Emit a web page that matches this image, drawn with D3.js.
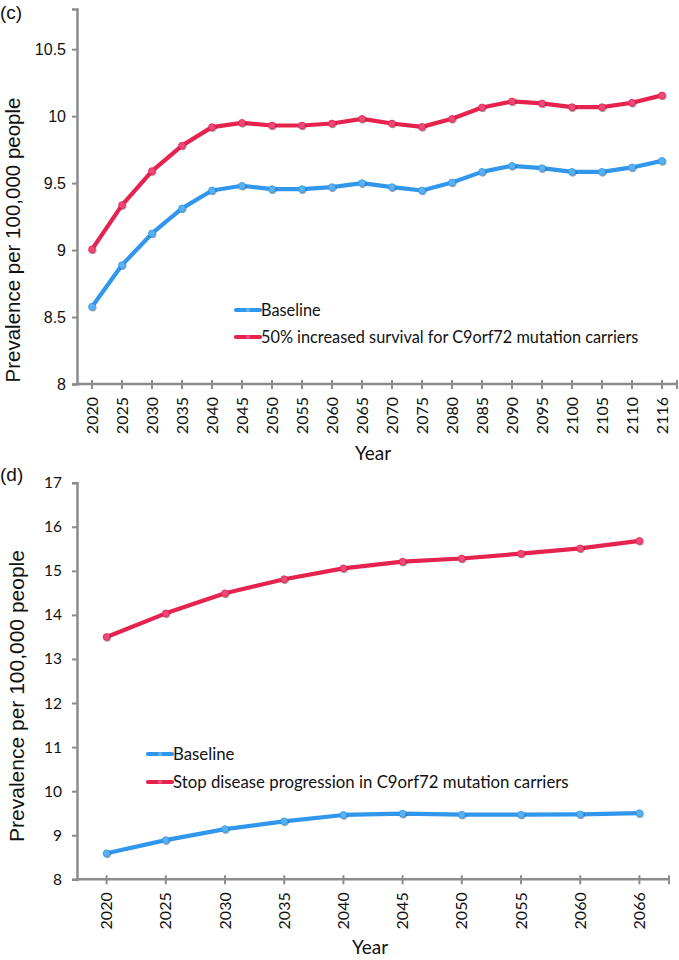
<!DOCTYPE html>
<html><head><meta charset="utf-8">
<script src="https://cdn.jsdelivr.net/npm/d3@7"></script>
<style>body{margin:0;background:#fff}svg{display:block}</style>
</head><body>
<svg id="c" width="679" height="960"></svg>
<script>
// Panel (c)
const yearsC = ["2020","2025","2030","2035","2040","2045","2050","2055","2060","2065","2070","2075","2080","2085","2090","2095","2100","2105","2110","2116"];
const baselineC = [8.577,8.888,9.124,9.311,9.445,9.480,9.455,9.455,9.470,9.500,9.470,9.445,9.505,9.584,9.629,9.612,9.584,9.584,9.617,9.666];
const survivalC = [9.005,9.336,9.590,9.780,9.918,9.950,9.930,9.930,9.945,9.980,9.945,9.920,9.980,10.065,10.110,10.095,10.067,10.067,10.100,10.155];
const yTicksC = [8, 8.5, 9, 9.5, 10, 10.5];
const yDomainC = [8, 10.8];
// Panel (d)
const yearsD = ["2020","2025","2030","2035","2040","2045","2050","2055","2060","2066"];
const baselineD = [8.59,8.89,9.14,9.315,9.46,9.49,9.466,9.466,9.475,9.50];
const stopD = [13.50,14.035,14.49,14.81,15.057,15.207,15.28,15.39,15.51,15.68];
const yTicksD = [8,9,10,11,12,13,14,15,16,17];
const yDomainD = [8, 17];

const seriesNamesC = ["Baseline","50% increased survival for C9orf72 mutation carriers"];
const seriesNamesD = ["Baseline","Stop disease progression in C9orf72 mutation carriers"];

const BLUE = "#3197ec", RED = "#e6224f";
const BLUE_M = "#5ab2f3", RED_M = "#ee4a7a";
const AXIS = "#8c8c8c";
const svg = d3.select("#c");

const defs = svg.append("defs");
const f = defs.append("filter").attr("id","sh").attr("x","-50%").attr("y","-50%").attr("width","200%").attr("height","200%");
f.append("feDropShadow").attr("dx",0.6).attr("dy",1).attr("stdDeviation",0.7).attr("flood-color","#000").attr("flood-opacity",0.45);

function panel(opt){
  const g = svg.append("g");
  const x = d3.scaleBand().domain(opt.years).range([opt.x0, opt.x1]);
  const y = d3.scaleLinear().domain(opt.yDomain).range([opt.yBottom, opt.yTop]);
  const cx = d => x(d) + x.bandwidth()/2;

  // y axis
  const ya = d3.axisLeft(y).tickValues(opt.yTicks).tickSize(5).tickPadding(opt.yPad).tickFormat(d3.format("~g"));
  const yg = g.append("g").attr("transform",`translate(${opt.x0},0)`).call(ya);
  yg.select(".domain").attr("stroke",AXIS).attr("stroke-width",2.5);
  yg.selectAll(".tick line").attr("stroke",AXIS).attr("stroke-width",2);
  yg.selectAll(".tick text").attr("fill","#111").style("font-family",opt.yFont).style("font-size",opt.yFontSize+"px");

  // x axis line & ticks
  g.append("line").attr("x1",opt.x0).attr("x2",opt.x1).attr("y1",opt.yBottom).attr("y2",opt.yBottom)
    .attr("stroke",AXIS).attr("stroke-width",2.5);
  const tickXs = opt.years.map(cx).concat([opt.x1]);
  g.selectAll(".xt").data(tickXs).join("line")
    .attr("x1",d=>d).attr("x2",d=>d).attr("y1",opt.yBottom-4).attr("y2",opt.yBottom+5)
    .attr("stroke",AXIS).attr("stroke-width",2);
  g.selectAll(".xl").data(opt.years).join("text")
    .attr("transform",d=>`translate(${cx(d)+5.5},${opt.yBottom+13}) rotate(-90)`)
    .attr("text-anchor","end")
    .style("font-family","Lato, 'Open Sans', sans-serif").style("font-size","16px").attr("fill","#111")
    .text(d=>d);

  // titles
  g.append("text").attr("x",opt.yearX).attr("y",opt.yearY)
    .style("font-family","Lato, sans-serif").style("font-size","19px").attr("fill","#111").text("Year");
  g.append("text").attr("transform",`translate(${opt.ytX},${opt.ytY}) rotate(-90)`)
    .attr("text-anchor","middle").style("font-family",opt.ytFont).style("font-size",opt.ytSize+"px").attr("fill","#111")
    .text("Prevalence per 100,000 people");
  g.append("text").attr("x",0).attr("y",opt.labelY)
    .style("font-family","'Liberation Sans', Arial, sans-serif").style("font-size","19px").attr("fill","#111").text(opt.label);

  // series
  const line = d3.line().x((d,i)=>cx(opt.years[i])).y(d=>y(d));
  const ser = [{v:opt.s1,c:BLUE,m:BLUE_M},{v:opt.s2,c:RED,m:RED_M}];
  ser.forEach(s=>{
    g.append("path").datum(s.v).attr("d",line).attr("fill","none").attr("stroke",s.c)
      .attr("stroke-width",4.2).attr("stroke-linejoin","round").attr("stroke-linecap","round");
  });
  ser.forEach(s=>{
    g.append("g").attr("filter","url(#sh)").selectAll("circle").data(s.v).join("circle")
      .attr("cx",(d,i)=>cx(opt.years[i])).attr("cy",d=>y(d)).attr("r",3.4)
      .attr("fill",s.m).attr("stroke",s.c).attr("stroke-width",0.8);
  });

  // legend
  opt.names.forEach((n,i)=>{
    const ly = opt.legY + i*opt.legGap;
    g.append("line").attr("x1",opt.legX).attr("x2",opt.legX+24).attr("y1",ly).attr("y2",ly)
      .attr("stroke",ser[i].c).attr("stroke-width",4.2).attr("stroke-linecap","round");
    g.append("circle").attr("cx",opt.legX+12).attr("cy",ly).attr("r",2.2).attr("fill",ser[i].m);
    g.append("text").attr("x",opt.legX+25).attr("y",ly).attr("dy","0.36em")
      .style("font-family","Lato, 'Open Sans', sans-serif").style("font-size",opt.legSize+"px").attr("fill","#111").text(n);
  });
}

panel({years:yearsC, s1:baselineC, s2:survivalC, yTicks:yTicksC, yDomain:yDomainC,
  x0:77, x1:677, yTop:9, yBottom:384, yPad:6, yFont:"'Liberation Sans', Arial, sans-serif", yFontSize:16,
  yearX:355, yearY:460, ytX:20, ytY:240, ytFont:"'Liberation Sans', Arial, sans-serif", ytSize:20.5,
  label:"(c)", labelY:19, names:seriesNamesC, legX:236, legY:310, legGap:27, legSize:16.3});

panel({years:yearsD, s1:baselineD, s2:stopD, yTicks:yTicksD, yDomain:yDomainD,
  x0:77, x1:669, yTop:482.7, yBottom:879.3, yPad:10, yFont:"Lato, sans-serif", yFontSize:15.5,
  yearX:352, yearY:954, ytX:24, ytY:696, ytFont:"'Liberation Sans', Arial, sans-serif", ytSize:21,
  label:"(d)", labelY:481, names:seriesNamesD, legX:148, legY:754, legGap:28, legSize:16.8});
</script>
</body></html>
